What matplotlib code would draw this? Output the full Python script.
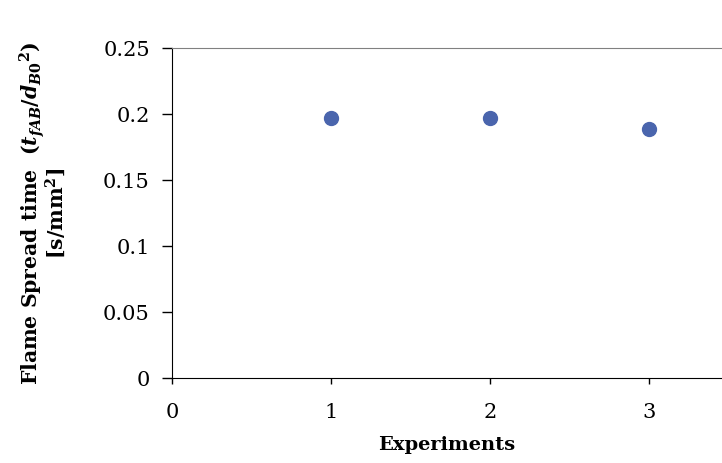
import matplotlib
matplotlib.use("Agg")
import matplotlib.pyplot as plt

experiments = [1, 2, 3]
spread_time = [0.197, 0.197, 0.189]
y_ticks = [0, 0.05, 0.1, 0.15, 0.2, 0.25]
y_tick_labels = ["0", "0.05", "0.1", "0.15", "0.2", "0.25"]
x_ticks = [0, 1, 2, 3]

plt.rcParams["font.family"] = "DejaVu Serif"
plt.rcParams["mathtext.fontset"] = "custom"
plt.rcParams["mathtext.rm"] = "DejaVu Serif:bold"
plt.rcParams["mathtext.it"] = "DejaVu Serif:bold:italic"
plt.rcParams["mathtext.bf"] = "DejaVu Serif:bold"

fig = plt.figure(figsize=(7.22, 4.63), dpi=100)
ax = fig.add_axes([172 / 722, 1 - 378 / 463, 1 - 172 / 722, 330 / 463])

ax.plot(experiments, spread_time, linestyle="none", marker="o",
        markersize=10, color="#4a65ad", markeredgecolor="#4a65ad")

ax.set_xlim(0, 550 / 159)
ax.set_ylim(0, 0.25)
ax.set_yticks(y_ticks)
ax.set_yticklabels(y_tick_labels)
ax.set_xticks(x_ticks)

ax.spines["right"].set_visible(False)
ax.spines["top"].set_color("#808080")
ax.spines["left"].set_color("black")
ax.spines["bottom"].set_color("black")
ax.tick_params(axis="y", direction="out", length=7, width=1, labelsize=15, pad=9)
ax.tick_params(axis="x", direction="out", length=4, width=1, labelsize=15, pad=14)

ax.set_xlabel("Experiments", fontsize=14, fontweight="bold", labelpad=10)
ax.set_ylabel("Flame Spread time  ($t_{fAB}/d_{B0}{}^{2}$)\n[s/mm$^{2}$]",
              fontsize=14.7, fontweight="bold", labelpad=25, linespacing=0.85)

fig.savefig("out.png", dpi=100)
